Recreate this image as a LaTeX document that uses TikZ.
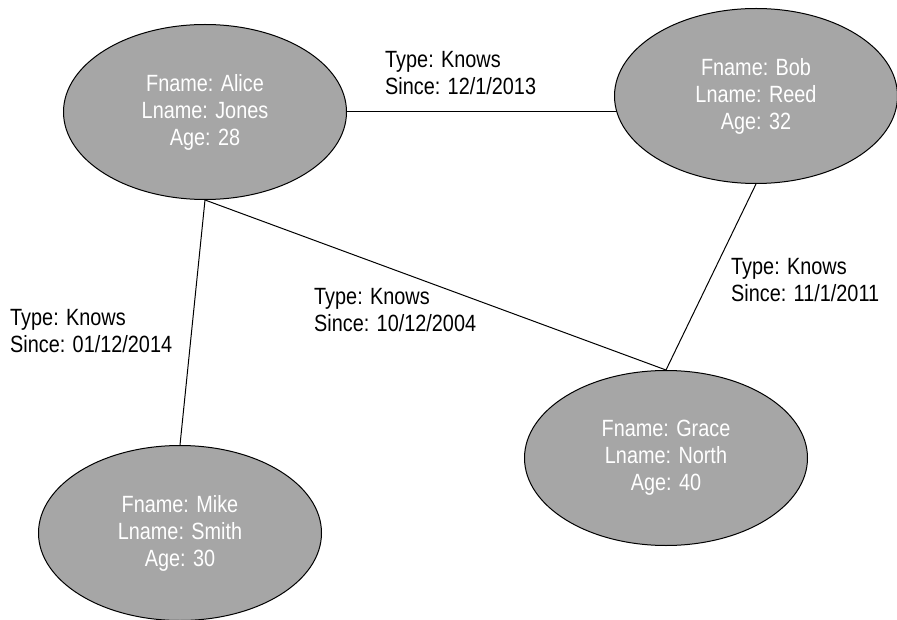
\documentclass[tikz,border=0pt]{standalone}
\usepackage{fontspec}
\setmainfont{Liberation Sans}[FakeStretch=0.845]
\usetikzlibrary{shapes.geometric,backgrounds}
\definecolor{nodegray}{HTML}{A6A6A6}
\tikzset{
  person/.style={ellipse, draw=black, line width=1pt, fill=nodegray,
    minimum width=283pt, minimum height=175pt, inner sep=0pt,
    text=white, align=center, font=\fontsize{23.5}{27}\selectfont},
  rel/.style={anchor=west, inner sep=0pt, align=left, text=black,
    font=\fontsize{23.5}{27}\selectfont},
  link/.style={draw=black, line width=1pt}
}
\begin{document}
\begin{tikzpicture}[x=1pt,y=-1pt]
\useasboundingbox (0,0) rectangle (897,620);
\node[person] (alice) at (205,112) {Fname: Alice\\Lname: Jones\\Age: 28};
\node[person] (bob) at (756,96) {Fname: Bob\\Lname: Reed\\Age: 32};
\node[person] (grace) at (666,458) {Fname: Grace\\Lname: North\\Age: 40};
\node[person] (mike) at (180,533) {Fname: Mike\\Lname: Smith\\Age: 30};
\coordinate (abend) at (alice.east -| bob.center);
\begin{scope}[on background layer]
\draw[link] (alice.east) -- (abend);
\draw[link] (alice.south) -- (mike.north);
\draw[link] (alice.south) -- (grace.north);
\draw[link] (bob.south) -- (grace.north);
\end{scope}
\node[rel] (l1) at (385,73) {Type: Knows\\Since: 12/1/2013};
\node[rel] (l2) at (10,331) {Type: Knows\\Since: 01/12/2014};
\node[rel] (l3) at (314,310) {Type: Knows\\Since: 10/12/2004};
\node[rel] (l4) at (731,280) {Type: Knows\\Since: 11/1/2011};
\end{tikzpicture}
\end{document}
